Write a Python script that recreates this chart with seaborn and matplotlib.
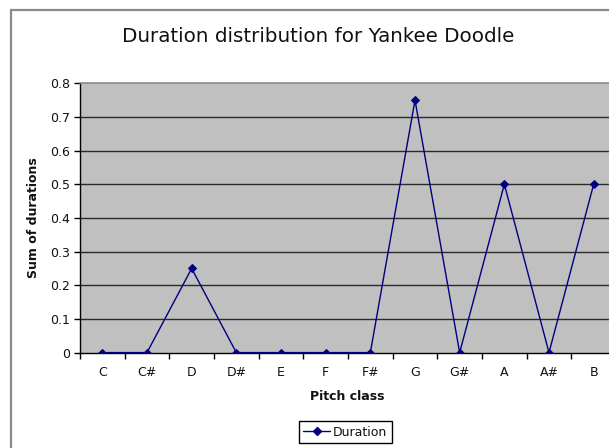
import matplotlib
matplotlib.use("Agg")
import matplotlib.pyplot as plt
from matplotlib.patches import Rectangle
from matplotlib.lines import Line2D
from matplotlib.ticker import FixedLocator
import pandas as pd
import seaborn as sns

# Pitch classes and summed note durations
pitch_classes = ["C", "C#", "D", "D#", "E", "F", "F#", "G", "G#", "A", "A#", "B"]
durations = [0, 0, 0.25, 0, 0, 0, 0, 0.75, 0, 0.5, 0, 0.5]
y_ticks = [0, 0.1, 0.2, 0.3, 0.4, 0.5, 0.6, 0.7, 0.8]
y_tick_labels = ["0", "0.1", "0.2", "0.3", "0.4", "0.5", "0.6", "0.7", "0.8"]
series_name = "Duration"
title = "Duration distribution for Yankee Doodle"

df = pd.DataFrame({"Pitch class": pitch_classes, "Sum of durations": durations})

sns.set_style("white")
plt.rcParams["font.family"] = ["DejaVu Sans"]

W, H = 609, 448
fig = plt.figure(figsize=(W / 100, H / 100), dpi=100)
fig.patch.set_facecolor("white")

# chart frame
fig.patches.append(Rectangle((11 / W, 1 - 450 / H), 620 / W, 440 / H,
                             transform=fig.transFigure, fill=False,
                             edgecolor="#8a8a8a", linewidth=1.6, zorder=0))

# plot area (runs past the right edge)
x0, x1 = 80, 616
y_top, y_bot = 83.3, 352.6
ax = fig.add_axes([x0 / W, 1 - y_bot / H, (x1 - x0) / W, (y_bot - y_top) / H])
ax.set_facecolor("#c0c0c0")

navy = "#000080"
sns.lineplot(data=df, x="Pitch class", y="Sum of durations", sort=False,
             color=navy, linewidth=1.0, marker="D", markersize=4.5,
             markeredgecolor=navy, markerfacecolor=navy, ax=ax, zorder=5)

ax.set_xlim(-0.5, len(pitch_classes) - 0.5)
ax.set_ylim(0, 0.8)

# horizontal gridlines
ax.set_yticks(y_ticks)
ax.set_yticklabels(y_tick_labels)
for v in y_ticks[1:-1]:
    ax.axhline(v, color="#2a2a2a", linewidth=1.0, zorder=1)

# category ticks between categories
ax.set_xticks(range(len(pitch_classes)))
ax.set_xticklabels(pitch_classes)
ax.xaxis.set_minor_locator(FixedLocator([i - 0.5 for i in range(len(pitch_classes) + 1)]))
ax.tick_params(axis="x", which="major", length=0, pad=10, labelsize=9, colors="#111111")
ax.tick_params(axis="x", which="minor", length=4, width=1, color="black", direction="out", bottom=True)
ax.tick_params(axis="y", which="major", length=4, width=1, color="black", direction="out",
               left=True, pad=3, labelsize=9, labelcolor="#111111")

for side in ["left", "bottom"]:
    ax.spines[side].set_color("black")
    ax.spines[side].set_linewidth(1.0)
ax.spines["top"].set_color("#8c8c8c")
ax.spines["top"].set_linewidth(1.2)
ax.spines["right"].set_visible(False)

ax.set_xlabel("Pitch class", fontsize=9, fontweight="bold", color="#111111")
ax.set_ylabel("Sum of durations", fontsize=9, fontweight="bold", color="#111111")
ax.xaxis.set_label_coords((347 - x0) / (x1 - x0), -(390 - y_bot) / (y_bot - y_top))
ax.yaxis.set_label_coords((40 - x0) / (x1 - x0), 0.5)

fig.text(318 / W, 1 - 37 / H, title, ha="center", va="center", fontsize=14.3, color="#111111")

handle = Line2D([], [], color=navy, linewidth=1.0, marker="D", markersize=4.5,
                markeredgecolor=navy, markerfacecolor=navy)
leg = fig.legend([handle], [series_name], loc="center", bbox_to_anchor=(345 / W, 1 - 432 / H),
                 frameon=True, fancybox=False, framealpha=1, edgecolor="black",
                 fontsize=9, handlelength=2.2, handletextpad=0.2, borderpad=0.35,
                 borderaxespad=0)
leg.get_frame().set_linewidth(1.0)
for t in leg.get_texts():
    t.set_color("#111111")

fig.savefig("out.png", dpi=100)
